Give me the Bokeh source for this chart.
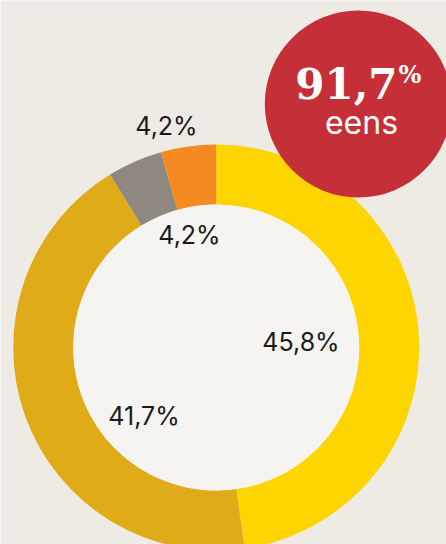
import numpy as np
from bokeh.plotting import figure
from bokeh.models import ColumnDataSource, Range1d
from bokeh.core.properties import value
from bokeh.embed import file_html
from bokeh.resources import INLINE

# Data
categories = ["eens", "helemaal eens", "oneens", "helemaal oneens"]
values = [45.8, 41.7, 4.2, 4.2]
labels = ["45,8%", "41,7%", "4,2%", "4,2%"]
colors = ["#FFD500", "#E0AB18", "#8F8881", "#F48A20"]
total_label = "91,7"
total_sub = "eens"

W, H = 446, 544
BG = "#EEEBE5"
INNER = "#F5F4F0"

p = figure(width=W, height=H, output_backend="svg", toolbar_location=None,
           x_range=Range1d(0, W), y_range=Range1d(0, H),
           x_axis_location=None, y_axis_location=None, min_border=0,
           background_fill_color=BG, border_fill_color=BG, outline_line_color=None)
p.grid.visible = False

def Y(y):
    return H - y

cx, cy = 215.7, Y(347.0)
r_out, r_in = 203.0, 143.0

v = np.array(values)
frac = v / v.sum()
cum = np.concatenate([[0], np.cumsum(frac)])
# clockwise from top (12 o'clock)
start = np.pi / 2 - cum[1:] * 2 * np.pi
end = np.pi / 2 - cum[:-1] * 2 * np.pi

src = ColumnDataSource(dict(cat=categories, val=values, color=colors,
                            start=start, end=end))
p.annular_wedge(x=cx, y=cy, inner_radius=r_in, outer_radius=r_out,
                start_angle="start", end_angle="end",
                fill_color="color", line_color=None, source=src)
p.circle(x=cx, y=cy, radius=r_in, fill_color=INNER, line_color=None)

# Percentage labels
lab_x = [300.5, 143.5, 189, 166]
lab_y = [Y(341.5), Y(415.5), Y(234), Y(125)]
p.text(x=lab_x, y=lab_y, text=labels, text_align="center",
       text_baseline="middle", text_font=value("Inter"),
       text_font_size="25px", text_color="#1A1A1A")

# Red badge
p.circle(x=357.8, y=Y(103.5), radius=93.5, fill_color="#C42F38", line_color=None)
p.text(x=[397], y=[Y(83)], text=[total_label], text_align="right",
       text_baseline="middle", text_font=value("DejaVu Serif"),
       text_font_size="42px", text_font_style="bold", text_color="white")
p.text(x=[398], y=[Y(74)], text=["%"], text_align="left",
       text_baseline="middle", text_font=value("DejaVu Serif"),
       text_font_size="24px", text_font_style="bold", text_color="white")
p.text(x=[361], y=[Y(122)], text=[total_sub], text_align="center",
       text_baseline="middle", text_font=value("Inter"),
       text_font_size="32px", text_color="white")

open("out.html", "w").write(file_html(p, INLINE))
